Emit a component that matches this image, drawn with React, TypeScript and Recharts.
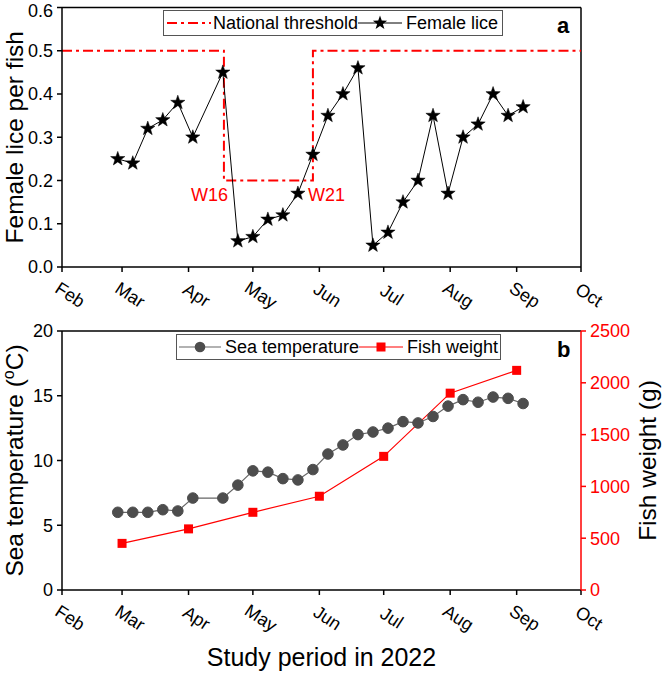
import React from 'react';
import { ComposedChart, Line, XAxis, YAxis, ReferenceLine, ReferenceDot } from 'recharts';

const FONT = '"Liberation Sans", Arial, Helvetica, sans-serif';

// x positions are days since 1 Feb 2022
const monthLabels = ['Feb', 'Mar', 'Apr', 'May', 'Jun', 'Jul', 'Aug', 'Sep', 'Oct'];
const monthTicks = [0, 28, 59, 89, 120, 150, 181, 212, 242];

const sampleDays = [26, 33, 40, 47, 54, 61, 75, 82, 89, 96, 103, 110, 117, 124, 131, 138, 145, 152, 159, 166, 173, 180, 187, 194, 201, 208, 215];
const femaleLice = [0.25, 0.24, 0.32, 0.34, 0.38, 0.30, 0.45, 0.06, 0.07, 0.11, 0.12, 0.17, 0.26, 0.35, 0.40, 0.46, 0.05, 0.08, 0.15, 0.20, 0.35, 0.17, 0.30, 0.33, 0.40, 0.35, 0.37];
const seaTemperature = [6.0, 6.0, 6.0, 6.2, 6.1, 7.1, 7.1, 8.1, 9.2, 9.1, 8.6, 8.5, 9.3, 10.5, 11.2, 12.0, 12.2, 12.5, 13.0, 12.9, 13.4, 14.2, 14.7, 14.5, 14.9, 14.8, 14.4];

const weightDays = [28, 59, 89, 120, 150, 181, 212];
const fishWeight = [450, 590, 750, 905, 1290, 1900, 2120];

const thresholdDays = [0, 75.5, 75.5, 117, 117, 242];
const thresholdValues = [0.5, 0.5, 0.2, 0.2, 0.5, 0.5];

const liceTicks = [0, 0.1, 0.2, 0.3, 0.4, 0.5, 0.6];
const tempTicks = [0, 5, 10, 15, 20];
const weightTicks = [0, 500, 1000, 1500, 2000, 2500];

const liceData = sampleDays.map((d, i) => ({ day: d, v: femaleLice[i] }));
const tempData = sampleDays.map((d, i) => ({ day: d, v: seaTemperature[i] }));
const weightData = weightDays.map((d, i) => ({ day: d, v: fishWeight[i] }));
const thresholdData = thresholdDays.map((d, i) => ({ day: d, v: thresholdValues[i] }));

const starPts = (cx: number, cy: number, R: number, r: number) => {
  const pts: string[] = [];
  for (let i = 0; i < 10; i++) {
    const a = (-90 + i * 36) * Math.PI / 180;
    const rad = i % 2 === 0 ? R : r;
    pts.push(`${cx + rad * Math.cos(a)},${cy + rad * Math.sin(a)}`);
  }
  return pts.join(' ');
};

const renderStar = (p: any) => (
  <polygon key={`s${p.index}`} points={starPts(p.cx, p.cy, 7.5, 3)} fill="#000" stroke="#000" strokeWidth={0.5} />
);
const renderCircle = (p: any) => (
  <circle key={`c${p.index}`} cx={p.cx} cy={p.cy} r={5.3} fill="#4d4d4d" stroke="#4d4d4d" />
);
const renderSquare = (p: any) => (
  <rect key={`q${p.index}`} x={p.cx - 4.5} y={p.cy - 4.5} width={9} height={9} fill="#ff0000" />
);

const MonthTick = (props: any) => {
  const { x, y, payload } = props;
  const i = monthTicks.indexOf(payload.value);
  return (
    <text
      x={0}
      y={0}
      transform={`translate(${x + 8},${y + 21}) rotate(33)`}
      textAnchor="middle"
      dominantBaseline="central"
      fontSize={18}
      fontFamily={FONT}
      fill="#000"
    >
      {monthLabels[i]}
    </text>
  );
};

const LiceTick = (props: any) => {
  const { x, y, payload } = props;
  const v = payload.value as number;
  const nudge = v >= 0.6 ? 3 : 0;
  return (
    <text x={x} y={y + nudge} dy="0.355em" textAnchor="end" fontSize={18} fontFamily={FONT} fill="#000">
      {v.toFixed(1)}
    </text>
  );
};

const leftTitle = (title: React.ReactNode) => (p: any) => {
  const vb = p.viewBox;
  const cy = vb.y + vb.height / 2;
  return (
    <text x={23} y={cy} transform={`rotate(-90, 23, ${cy})`} textAnchor="middle" fontSize={24.5} fontFamily={FONT} fill="#000">
      {title}
    </text>
  );
};

const rightTitle = (p: any) => {
  const vb = p.viewBox;
  const cy = vb.y + vb.height / 2;
  return (
    <text x={656} y={cy} transform={`rotate(-90, 656, ${cy})`} textAnchor="middle" fontSize={24.5} fontFamily={FONT} fill="#000">
      Fish weight (g)
    </text>
  );
};

const bottomTitle = (p: any) => {
  const vb = p.viewBox;
  return (
    <text x={vb.x + vb.width / 2} y={vb.y + 76} textAnchor="middle" fontSize={25} fontFamily={FONT} fill="#000">
      Study period in 2022
    </text>
  );
};

const weekLabel = (txt: string, dx: number, anchor: string) => (p: any) => {
  const vb = p.viewBox;
  return (
    <text x={vb.x + vb.width / 2 + dx} y={vb.y + vb.height / 2 + 20} textAnchor={anchor as any} fontSize={18} fontFamily={FONT} fill="#ff0000">
      {txt}
    </text>
  );
};

const axisBlack = { stroke: '#000', strokeWidth: 1.5 };
const axisRed = { stroke: '#ff0000', strokeWidth: 1.5 };

const legendBox: React.CSSProperties = {
  position: 'absolute',
  height: 26,
  border: '1.5px solid #555',
  boxSizing: 'border-box',
  display: 'flex',
  alignItems: 'center',
  fontFamily: FONT,
  fontSize: 18,
  color: '#000',
  background: '#fff',
  whiteSpace: 'nowrap',
};

export default function App() {
  return (
    <div style={{ position: 'absolute', left: 0, top: 0, width: 664, height: 673, background: '#fff', fontFamily: FONT }}>
      <div style={{ position: 'absolute', left: 0, top: 0 }}>
        <ComposedChart width={664} height={322} margin={{ top: 7.5, right: 83, bottom: 0, left: 0 }}>
          <XAxis
            type="number"
            dataKey="day"
            domain={[0, 242]}
            ticks={monthTicks}
            interval={0}
            height={55}
            tickSize={5}
            tickMargin={2}
            axisLine={axisBlack}
            tickLine={axisBlack}
            tick={<MonthTick />}
          />
          <YAxis
            type="number"
            domain={[0, 0.6]}
            ticks={liceTicks}
            interval={0}
            width={62}
            tickSize={5}
            tickMargin={4}
            axisLine={axisBlack}
            tickLine={axisBlack}
            tick={<LiceTick />}
            label={leftTitle('Female lice per fish')}
          />
          <ReferenceLine y={0.6} stroke="#000" strokeWidth={1.5} />
          <ReferenceLine x={242} stroke="#000" strokeWidth={1.5} />
          <Line
            data={thresholdData}
            dataKey="v"
            type="linear"
            stroke="#ff0000"
            strokeWidth={2}
            strokeDasharray="10 4 3 4"
            dot={false}
            activeDot={false}
            isAnimationActive={false}
          />
          <Line
            data={liceData}
            dataKey="v"
            type="linear"
            stroke="#000"
            strokeWidth={1}
            dot={renderStar}
            activeDot={false}
            isAnimationActive={false}
          />
          <ReferenceDot x={75.5} y={0.2} r={0} fill="none" stroke="none" label={weekLabel('W16', 4, 'end')} />
          <ReferenceDot x={117} y={0.2} r={0} fill="none" stroke="none" label={weekLabel('W21', -5, 'start')} />
        </ComposedChart>
      </div>

      <div style={{ position: 'absolute', left: 0, top: 322 }}>
        <ComposedChart width={664} height={351} margin={{ top: 9, right: 0, bottom: 0, left: 0 }}>
          <XAxis
            type="number"
            dataKey="day"
            domain={[0, 242]}
            ticks={monthTicks}
            interval={0}
            height={83}
            tickSize={5}
            tickMargin={2}
            axisLine={axisBlack}
            tickLine={axisBlack}
            tick={<MonthTick />}
            label={bottomTitle}
          />
          <YAxis
            yAxisId="t"
            type="number"
            domain={[0, 20]}
            ticks={tempTicks}
            interval={0}
            width={62}
            tickSize={5}
            tickMargin={4}
            axisLine={axisBlack}
            tickLine={axisBlack}
            tick={{ fill: '#000', fontSize: 18, fontFamily: FONT }}
            label={leftTitle(
              <>
                Sea temperature (
                <tspan fontSize={16} dy={-9}>o</tspan>
                <tspan dy={9}>C)</tspan>
              </>
            )}
          />
          <YAxis
            yAxisId="w"
            orientation="right"
            type="number"
            domain={[0, 2500]}
            ticks={weightTicks}
            interval={0}
            width={83}
            tickSize={5}
            tickMargin={4}
            axisLine={axisRed}
            tickLine={axisRed}
            tick={{ fill: '#ff0000', fontSize: 18, fontFamily: FONT }}
            label={rightTitle}
          />
          <ReferenceLine yAxisId="t" y={20} stroke="#000" strokeWidth={1.5} />
          <Line
            yAxisId="t"
            data={tempData}
            dataKey="v"
            type="linear"
            stroke="#666"
            strokeWidth={1.2}
            dot={renderCircle}
            activeDot={false}
            isAnimationActive={false}
          />
          <Line
            yAxisId="w"
            data={weightData}
            dataKey="v"
            type="linear"
            stroke="#ff0000"
            strokeWidth={1.2}
            dot={renderSquare}
            activeDot={false}
            isAnimationActive={false}
          />
        </ComposedChart>
      </div>

      {/* legend a */}
      <div style={{ ...legendBox, left: 163, top: 10 }}>
        <svg width={48} height={20} style={{ marginLeft: 1 }}>
          <line x1={2} x2={46} y1={10} y2={10} stroke="#ff0000" strokeWidth={2} strokeDasharray="10 4 3 4" />
        </svg>
        <span>National threshold</span>
        <svg width={44} height={20}>
          <line x1={0} x2={44} y1={10} y2={10} stroke="#000" strokeWidth={1} />
          <polygon points={starPts(22, 10, 7.5, 3)} fill="#000" />
        </svg>
        <span style={{ marginLeft: 4, marginRight: 4 }}>Female lice</span>
      </div>
      <div style={{ position: 'absolute', left: 557, top: 14, fontFamily: FONT, fontSize: 22, fontWeight: 'bold', lineHeight: '24px' }}>a</div>

      {/* legend b */}
      <div style={{ ...legendBox, left: 176, top: 334 }}>
        <svg width={48} height={20}>
          <line x1={2} x2={44} y1={10} y2={10} stroke="#666" strokeWidth={1.2} />
          <circle cx={23} cy={10} r={5.3} fill="#4d4d4d" />
        </svg>
        <span>Sea temperature</span>
        <svg width={44} height={20}>
          <line x1={0} x2={44} y1={10} y2={10} stroke="#ff0000" strokeWidth={1.2} />
          <rect x={17.5} y={5.5} width={9} height={9} fill="#ff0000" />
        </svg>
        <span style={{ marginLeft: 4, marginRight: 2 }}>Fish weight</span>
      </div>
      <div style={{ position: 'absolute', left: 557, top: 338, fontFamily: FONT, fontSize: 22, fontWeight: 'bold', lineHeight: '24px' }}>b</div>
    </div>
  );
}
